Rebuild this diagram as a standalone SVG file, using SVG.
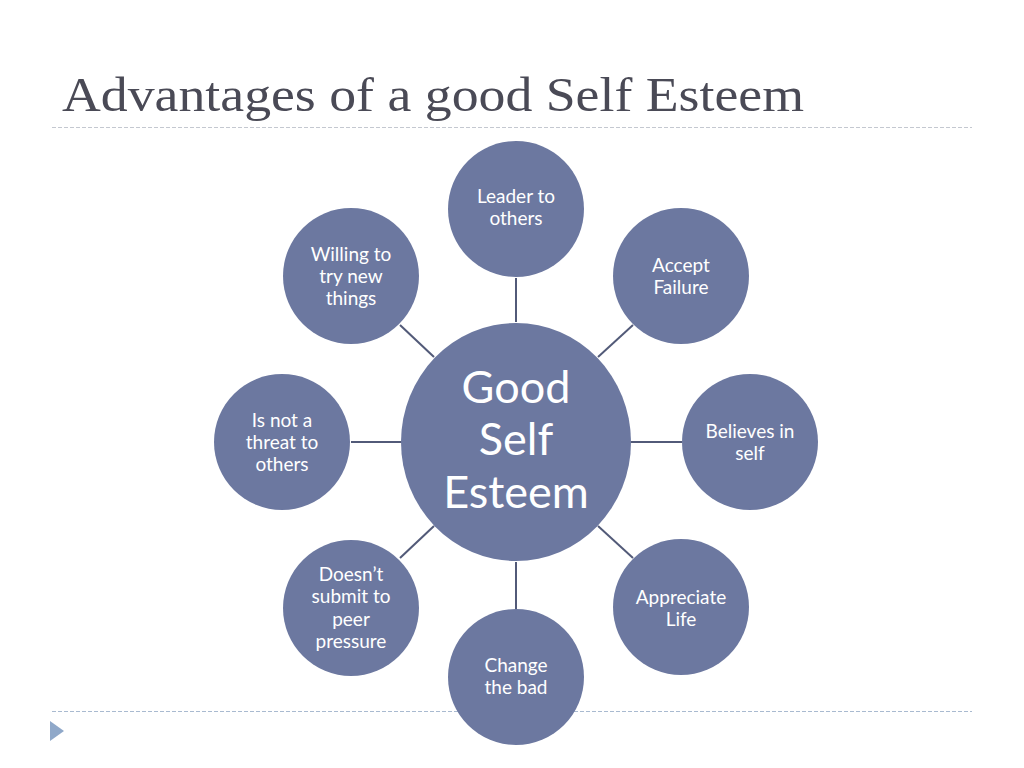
<svg xmlns="http://www.w3.org/2000/svg" width="1024" height="768" viewBox="0 0 1024 768">
<style>
.node{fill:#6c78a0}
.lbl{font-family:Lato,"Open Sans","Liberation Sans",sans-serif;font-size:19px;fill:#ffffff;text-anchor:middle}
.big{font-family:Lato,"Open Sans","Liberation Sans",sans-serif;font-size:45px;fill:#ffffff;text-anchor:middle}
.conn{stroke:#525a78;stroke-width:2;fill:none}
</style>
<rect width="1024" height="768" fill="#ffffff"/>
<text x="62" y="111" font-family="'Liberation Serif','DejaVu Serif',serif" font-size="48" fill="#4a4a56" textLength="742" lengthAdjust="spacingAndGlyphs">Advantages of a good Self Esteem</text>
<line x1="52" y1="127.5" x2="972" y2="127.5" stroke="#c4c8d0" stroke-width="1.2" stroke-dasharray="4 2"/>
<line x1="52" y1="711.5" x2="972" y2="711.5" stroke="#a9bad0" stroke-width="1.2" stroke-dasharray="4 2"/>
<polygon points="50,721 64,731 50,741" fill="#8fa8c9"/>
<g id="connectors">
<line class="conn" x1="516" y1="278" x2="516" y2="322"/>
<line class="conn" x1="516" y1="562" x2="516" y2="609"/>
<line class="conn" x1="351" y1="442" x2="402" y2="442"/>
<line class="conn" x1="631" y1="442" x2="682" y2="442"/>
<line class="conn" x1="400" y1="325" x2="434" y2="357"/>
<line class="conn" x1="633" y1="325" x2="598" y2="357"/>
<line class="conn" x1="400" y1="558" x2="434" y2="526"/>
<line class="conn" x1="633" y1="558" x2="598" y2="526"/>
</g>
<g id="center">
<ellipse class="node" cx="516" cy="442" rx="115" ry="119"/>
<text class="big" x="516" y="403">Good</text>
<text class="big" x="516" y="455">Self</text>
<text class="big" x="516" y="508">Esteem</text>
</g>
<g id="n-leader">
<circle class="node" cx="516" cy="209" r="68"/>
<text class="lbl" x="516" y="203">Leader to</text>
<text class="lbl" x="516" y="225">others</text>
</g>
<g id="n-accept">
<circle class="node" cx="681" cy="276" r="68"/>
<text class="lbl" x="681" y="272">Accept</text>
<text class="lbl" x="681" y="294">Failure</text>
</g>
<g id="n-believes">
<circle class="node" cx="750" cy="442" r="68"/>
<text class="lbl" x="750" y="438">Believes in</text>
<text class="lbl" x="750" y="460">self</text>
</g>
<g id="n-appreciate">
<circle class="node" cx="681" cy="607" r="68"/>
<text class="lbl" x="681" y="604">Appreciate</text>
<text class="lbl" x="681" y="626">Life</text>
</g>
<g id="n-change">
<circle class="node" cx="516" cy="677" r="68"/>
<text class="lbl" x="516" y="672">Change</text>
<text class="lbl" x="516" y="694">the bad</text>
</g>
<g id="n-doesnt">
<circle class="node" cx="351" cy="608" r="68"/>
<text class="lbl" x="351" y="581">Doesn’t</text>
<text class="lbl" x="351" y="603">submit to</text>
<text class="lbl" x="351" y="626">peer</text>
<text class="lbl" x="351" y="648">pressure</text>
</g>
<g id="n-threat">
<circle class="node" cx="282" cy="442" r="68"/>
<text class="lbl" x="282" y="427">Is not a</text>
<text class="lbl" x="282" y="449">threat to</text>
<text class="lbl" x="282" y="471">others</text>
</g>
<g id="n-willing">
<circle class="node" cx="351" cy="276" r="68"/>
<text class="lbl" x="351" y="261">Willing to</text>
<text class="lbl" x="351" y="283">try new</text>
<text class="lbl" x="351" y="305">things</text>
</g>
</svg>
